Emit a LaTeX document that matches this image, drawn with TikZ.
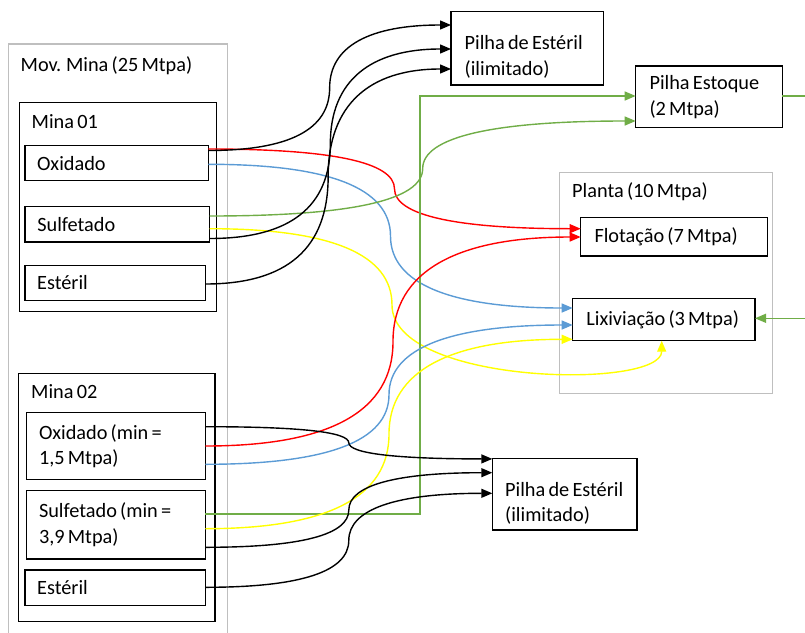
\documentclass[tikz,border=0pt]{standalone}
\usepackage{fontspec}
\setmainfont{Carlito}[WordSpace=0.7]
\usetikzlibrary{arrows.meta,calc}
\definecolor{cgray}{HTML}{BFBFBF}
\definecolor{cred}{HTML}{FF0000}
\definecolor{cblue}{HTML}{5B9BD5}
\definecolor{cyellow}{HTML}{FFFF00}
\definecolor{cgreen}{HTML}{70AD47}
\newcommand{\dfont}{\fontsize{20.3}{25.5}\selectfont\hyphenpenalty=10000\exhyphenpenalty=10000}
\begin{document}
\begin{tikzpicture}[x=1pt,y=-1pt,
  box/.style={draw, line width=1.3pt, outer sep=0pt, inner xsep=11.5pt, inner ysep=0pt,
    anchor=north west, align=flush left, font=\dfont,
    execute at begin node={\spaceskip=0pt\xspaceskip=0pt\relax}},
  rbox/.style={box, inner xsep=13pt},
  grp/.style={draw=cgray, line width=1.5pt, outer sep=0pt, inner sep=0pt, anchor=north west},
  lbl/.style={anchor=base west, inner sep=0pt, font=\dfont},
  con/.style={line width=1.4pt, -{Triangle[length=11pt,width=9pt]}},
  plain/.style={line width=1.4pt},
  sconn/.style={to path={let \p1=(\tikztostart), \p2=(\tikztotarget) in
     .. controls ({(2*\x1+\x2)/3},\y1) and ({(\x1+\x2)/2},{(5*\y1+\y2)/6})
     .. ({(\x1+\x2)/2},{(\y1+\y2)/2})
     .. controls ({(\x1+\x2)/2},{(\y1+5*\y2)/6}) and ({(\x1+2*\x2)/3},\y2)
     .. (\tikztotarget) \tikztonodes}}
]
\useasboundingbox (0,0) rectangle (805,632);
\clip (0,0) rectangle (805,632);

% containers
\node[grp, minimum width=219.4pt, minimum height=640pt] (mov) at (8.3,44) {};
\node[lbl] (movt) at (20.5,71.5) {Mov. Mina (25 Mtpa)};
\node[box, minimum width=197.4pt, minimum height=209pt] (m1) at (19.3,102.7) {};
\node[lbl] (m1t) at (31.5,128) {Mina 01};
\node[box, minimum width=196.7pt, minimum height=248.4pt] (m2) at (18.3,373.3) {};
\node[lbl] (m2t) at (31,398) {Mina 02};
\node[grp, minimum width=213pt, minimum height=220.6pt] (pl) at (559.3,172.7) {};
\node[lbl] (plt) at (572,197.7) {Planta (10 Mtpa)};

% boxes
\node[box, minimum width=183.3pt, minimum height=35pt, text width=159pt] (o1) at (25,145.7) {Oxidado};
\node[box, minimum width=184.7pt, minimum height=35.3pt, text width=160pt] (s1) at (25,206.7) {Sulfetado};
\node[box, minimum width=180.3pt, minimum height=35.4pt, text width=156pt] (e1) at (25,265.3) {Estéril};
\node[box, minimum width=178.6pt, minimum height=66.6pt, text width=154pt] (o2) at (26.7,412.7) {Oxidado (min =\\1,5 Mtpa)};
\node[box, minimum width=178.6pt, minimum height=68.3pt, text width=154pt] (s2) at (26.7,490.7) {Sulfetado (min =\\3,9 Mtpa)};
\node[box, minimum width=180.3pt, minimum height=35.7pt, text width=156pt] (e2) at (25,570) {Estéril};

\node[rbox, minimum width=152.3pt, minimum height=73.3pt, text width=125pt, text depth=11.3pt] (pt) at (451,11.7) {Pilha de Estéril\\(ilimitado)};
\node[rbox, minimum width=146.6pt, minimum height=61.7pt, text width=119pt] (pe) at (635.7,66) {Pilha Estoque\\(2 Mtpa)};
\node[rbox, minimum width=186.6pt, minimum height=38.3pt, text width=159pt] (fl) at (580.7,217.7) {Flotação (7 Mtpa)};
\node[rbox, minimum width=182.3pt, minimum height=42.4pt, text width=155pt] (lx) at (572.7,298.3) {Lixiviação (3 Mtpa)};
\node[rbox, inner xsep=12.5pt, minimum width=144.7pt, minimum height=71.7pt, text width=119pt, text depth=9.7pt] (pb) at (492.3,458.3) {Pilha de Estéril\\(ilimitado)};

% free ends and corner
\coordinate (gk) at (420,96);
\coordinate (edgeA) at (805,96);
\coordinate (edgeB) at (805,318.3);

% Mina 01 connectors
\draw[con, cred] ($(o1.north east)+(0,3.3)$) to[sconn] ($(fl.north west)+(0,11)$);
\draw[con, cblue] ($(o1.north east)+(0,18.6)$) to[sconn] ($(lx.north west)+(0,9.7)$);
\draw[con, black] ($(o1.north east)+(0,4.8)$) to[sconn] ($(pt.north west)+(0,13.3)$);
\draw[con, cgreen] ($(s1.north east)+(0,9.3)$) to[sconn] ($(pe.north west)+(0,55)$);
\draw[con, cyellow] ($(s1.north east)+(0,22)$)
   .. controls (331.2,228.7) and (392,254.3) .. (392,305)
   .. controls (392,385) and (661.7,390) .. ($(lx.south west)+(89,0)$);
\draw[con, black] ($(s1.north east)+(0,31.8)$) to[sconn] ($(pt.north west)+(0,37.3)$);
\draw[con, black] ($(e1.north east)+(0,18.7)$) to[sconn] ($(pt.north west)+(0,57.3)$);

% Mina 02 connectors
\draw[con, cgreen] ($(s2.north east)+(0,23.3)$) -| (gk) -- ($(pe.north west)+(0,30)$);
\draw[con, cred] ($(o2.north east)+(0,33.3)$) to[sconn] ($(fl.north west)+(0,19.3)$);
\draw[con, cblue] ($(o2.north east)+(0,51.6)$) to[sconn] ($(lx.north west)+(0,26.7)$);
\draw[con, cyellow] ($(s2.north east)+(0,38)$) to[sconn] ($(lx.north west)+(0,41)$);
\draw[con, black] ($(o2.north east)+(0,14)$) to[sconn] ($(pb.north west)+(0,0.6)$);
\draw[con, black] ($(s2.north east)+(0,56.6)$) to[sconn] ($(pb.north west)+(0,14.4)$);
\draw[con, black] ($(e2.north east)+(0,17.3)$) to[sconn] ($(pb.north west)+(0,35)$);

% right side green stubs
\draw[plain, cgreen] ($(pe.north east)+(0,30)$) -- (edgeA);
\draw[con, cgreen] (edgeB) -- ($(lx.north east)+(0,20)$);
\end{tikzpicture}
\end{document}
